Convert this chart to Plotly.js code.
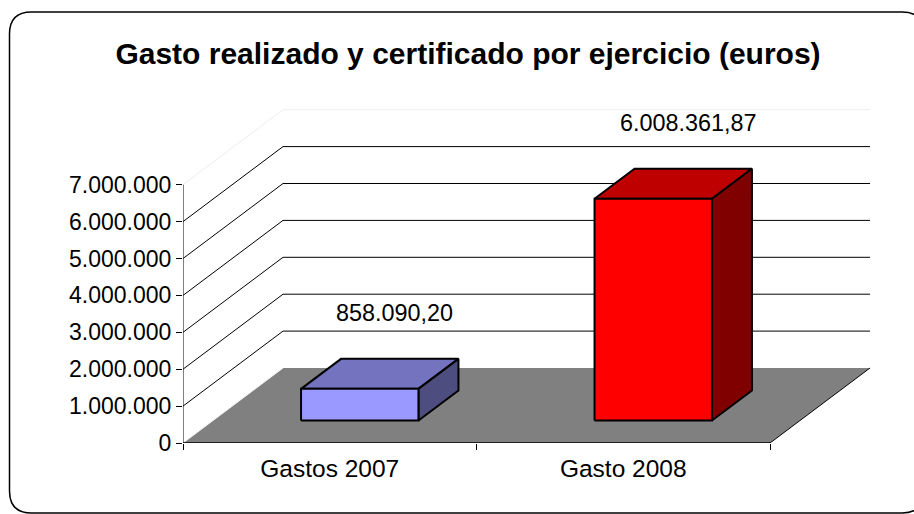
<!DOCTYPE html>
<html>
<head>
<meta charset="utf-8">
<script src="https://cdn.plot.ly/plotly-3.0.1.min.js"></script>
<style>html,body{margin:0;padding:0;background:#fff;overflow:hidden}</style>
</head>
<body>
<div id="chart" style="width:914px;height:514px"></div>
<script>
const categories = ["Gastos 2007", "Gasto 2008"];
const values = [858090.20, 6008361.87];
const valueLabels = ["858.090,20", "6.008.361,87"];
const yTicks = [0, 1000000, 2000000, 3000000, 4000000, 5000000, 6000000, 7000000];
const yTickLabels = ["0", "1.000.000", "2.000.000", "3.000.000", "4.000.000", "5.000.000", "6.000.000", "7.000.000"];
const frontColors = ["#9999FF", "#FF0000"];
const topColors = ["#7373BF", "#BF0000"];
const sideColors = ["#4D4D80", "#800000"];

// plot box in page pixels
const L = 183, R = 870, T = 109, B = 443;
const pxPerCat = 293.5, pxPerVal = 36.9 / 1e6;
const depthPx = 100, depthPy = 75;
const dxCat = depthPx / pxPerCat, dyVal = depthPy / pxPerVal;
const catCount = categories.length, yMax = yTicks[yTicks.length - 1];

// oblique projection: category position c, value v, depth d (0 front .. 1 back)
const px = (c, d) => c + d * dxCat;
const py = (v, d) => v + d * dyVal;

function poly(pts, fill, lineColor, width) {
  return {
    type: "scatter", mode: "lines", x: pts.map(p => px(p[0], p[2])), y: pts.map(p => py(p[1], p[2])),
    fill: fill ? "toself" : "none", fillcolor: fill || undefined,
    line: {color: lineColor, width: width, simplify: false},
    hoverinfo: "skip", showlegend: false, cliponaxis: false
  };
}

const traces = [];
// floor
traces.push(poly([[0,0,0],[catCount,0,0],[catCount,0,1],[0,0,1],[0,0,0]], "#808080", "rgba(128,128,128,0)", 0));
// wall gridlines
yTicks.forEach(v => {
  if (v === 0) return;
  const col = v === yMax ? "#EEEEEE" : "#000000";
  traces.push(poly([[0,v,0],[0,v,1],[catCount,v,1]], null, col, 1));
});
// floor edges and front axes
traces.push(poly([[catCount,0,0],[catCount,0,1]], null, "#000000", 1));
traces.push(poly([[0,0,0],[0,0,1]], null, "#F4F4F4", 1));
traces.push(poly([[0,0,0],[catCount,0,0]], null, "#000000", 1.5));
traces.push(poly([[0,0,0],[0,yMax,0]], null, "#000000", 1));
// bars
const c0 = 0.3, c1 = 0.7, d0 = 0.3, d1 = 0.7;
values.forEach((v, i) => {
  const a = i + c0, b = i + c1;
  traces.push(poly([[a,v,d0],[a,v,d1],[b,v,d1],[b,v,d0],[a,v,d0]], topColors[i], "#000000", 2));
  traces.push(poly([[b,0,d0],[b,0,d1],[b,v,d1],[b,v,d0],[b,0,d0]], sideColors[i], "#000000", 2));
  traces.push(poly([[a,0,d0],[b,0,d0],[b,v,d0],[a,v,d0],[a,0,d0]], frontColors[i], "#000000", 2));
});

const W = R - L, H = B - T;
const fx = p => (p - L) / W, fy = p => (B - p) / H;
const fL = 9.5, fR = 924, fT = 12, fB = 513, r = 22;
const framePath = [
  "M", fx(fL + r), fy(fT), "L", fx(fR - r), fy(fT),
  "Q", fx(fR), fy(fT), fx(fR), fy(fT + r), "L", fx(fR), fy(fB - r),
  "Q", fx(fR), fy(fB), fx(fR - r), fy(fB), "L", fx(fL + r), fy(fB),
  "Q", fx(fL), fy(fB), fx(fL), fy(fB - r), "L", fx(fL), fy(fT + r),
  "Q", fx(fL), fy(fT), fx(fL + r), fy(fT), "Z"
].join(" ");

const family = "Liberation Sans, Arial, sans-serif";
const tickFont = {family: family, color: "#000000", size: 23};
const catFont = {family: family, color: "#000000", size: 24.5};
const labelFont = {family: family, color: "#000000", size: 23.4};

const annotations = values.map((v, i) => ({
  xref: "x", yref: "y", x: px(i + 0.5, 0.65), y: py(v, 0.7), yshift: 46, text: valueLabels[i],
  showarrow: false, font: labelFont, xanchor: "center", yanchor: "middle"
}));

const layout = {
  width: 914, height: 514,
  margin: {l: L, r: 914 - R, t: T, b: 514 - B, pad: 0},
  paper_bgcolor: "#FFFFFF", plot_bgcolor: "rgba(0,0,0,0)",
  showlegend: false,
  title: {text: "<b>Gasto realizado y certificado por ejercicio (euros)</b>",
    font: {family: family, size: 30, color: "#000000"},
    x: 468 / 914, xanchor: "center", y: 1 - 53 / 514, yanchor: "middle"},
  xaxis: {type: "linear", range: [0, catCount + dxCat], showgrid: false, zeroline: false, showline: false,
    tickmode: "array", tickvals: [0.5, 1.5], ticktext: categories, ticks: "", tickfont: catFont, ticklabelstandoff: 8,
    minor: {tickmode: "array", tickvals: [0, 1, 2], ticks: "outside", ticklen: 6, tickwidth: 1, tickcolor: "#000000", showgrid: false}},
  yaxis: {type: "linear", range: [0, H / pxPerVal], showgrid: false, zeroline: false, showline: false,
    tickmode: "array", tickvals: yTicks, ticktext: yTickLabels, ticks: "outside", ticklen: 6, tickwidth: 1, tickcolor: "#000000", tickfont: tickFont},
  shapes: [{type: "path", xref: "paper", yref: "paper", path: framePath, line: {color: "#000000", width: 1.5}, fillcolor: "rgba(0,0,0,0)", layer: "below"}],
  annotations: annotations,
  hovermode: false
};
Plotly.newPlot("chart", traces, layout, {displayModeBar: false, staticPlot: true});
</script>
</body>
</html>
